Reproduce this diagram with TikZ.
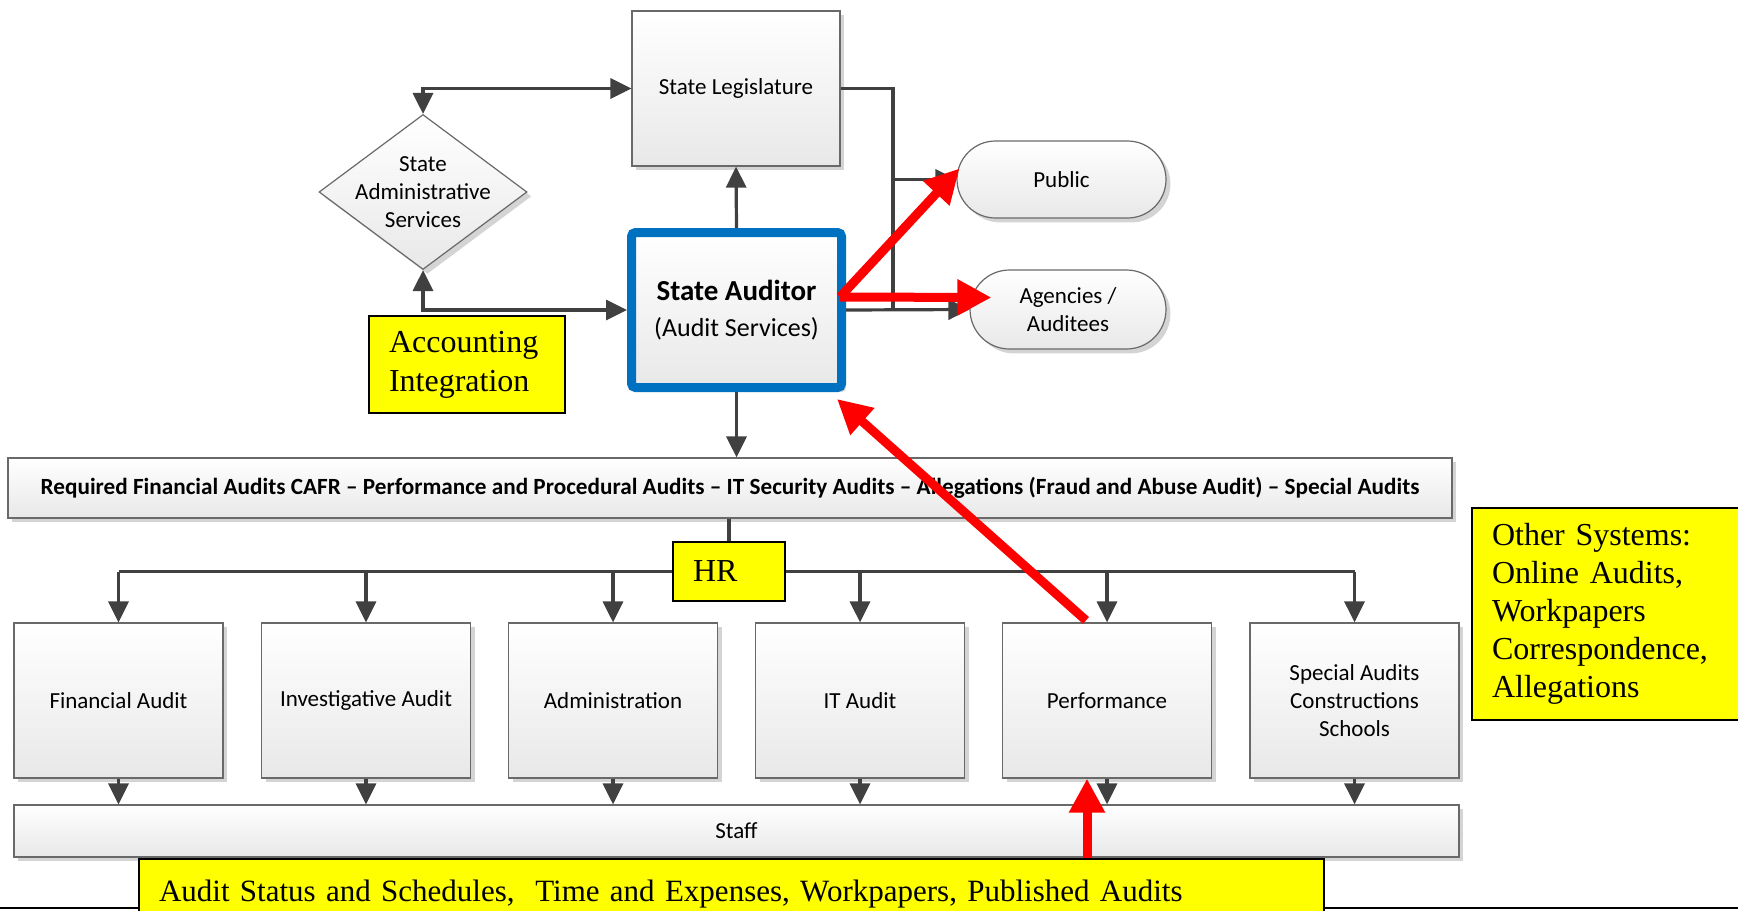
\documentclass[tikz,border=0pt]{standalone}
\usepackage{fontspec}
\setmainfont{Carlito}
\newfontfamily\tnr{Liberation Serif}
\usetikzlibrary{calc,arrows.meta,shapes.geometric,shapes.misc,shadows}

\definecolor{linegray}{RGB}{64,64,64}
\definecolor{edgegray}{RGB}{105,105,105}
\definecolor{auditblue}{RGB}{0,112,192}
\definecolor{notered}{RGB}{255,0,0}
\definecolor{noteyellow}{RGB}{255,255,0}

\begin{document}
\begin{tikzpicture}[x=0.5pt, y=-0.5pt,
  >={Triangle[length=10.5pt,width=10pt]},
  txt/.style={font=\fontsize{11.5}{13.9}\selectfont, align=center},
  unit/.style={txt, draw=edgegray, line width=0.6pt, top color=white,
    bottom color=black!9, inner sep=0pt,
    drop shadow={shadow xshift=2.2pt, shadow yshift=-2.2pt, fill=black!17, opacity=1}},
  panel/.style={unit, minimum width=104.5pt, minimum height=77.5pt},
  pill/.style={unit, rounded rectangle},
  note/.style={draw=black, line width=1pt, fill=noteyellow, align=left,
    font=\tnr\fontsize{16}{19.5}\selectfont, inner xsep=10pt, inner ysep=0pt},
  conn/.style={draw=linegray, line width=1.6pt},
  redarrow/.style={draw=notered, line width=4.5pt, -{Triangle[length=17pt,width=17pt]}}
]

  \path[use as bounding box] (0,0) rectangle (1738,910);
  \clip (0,0) rectangle (1738,910);

  \draw[line width=1.2pt] (0,908) -- (1738,908);

  % top part
  \node[panel, minimum width=104pt] (leg) at (736,88.5) {State Legislature};
  \node[unit, diamond, minimum width=104pt, minimum height=77.5pt] (sas) at (423,192) {};
  \node[txt] (sast) at (sas) {State\\Administrative\\Services};
  \node[panel, draw=auditblue, line width=4.5pt, rounded corners=2pt,
    minimum width=105pt, font=\fontsize{13}{17.7}\selectfont] (auditor) at (736.5,310)
    {{\bfseries\fontsize{14.5}{17.7}\selectfont State Auditor}\\(Audit Services)};
  \node[pill, minimum width=104.5pt, minimum height=38.5pt] (public) at (1061.5,179.5) {Public};
  \node[pill, minimum width=98pt, minimum height=39.5pt] (agencies) at (1068,309.5) {Agencies /\\Auditees};
  \node[note, minimum width=98pt, minimum height=48.5pt, text width=78pt] (acct) at (467,364.5)
    {Accounting\\Integration};

  \node[unit, minimum width=722pt, minimum height=30pt, font=\bfseries\fontsize{11.6}{13}\selectfont] (req) at (730,488)
    {Required Financial Audits CAFR – Performance and Procedural Audits – IT Security Audits – Allegations (Fraud and Abuse Audit) – Special Audits};

  % units
  \node[panel] (fin) at (118.5,700.5) {Financial Audit};
  \node[panel] (inv) at (366,700.5) {Investigative Audit};
  \node[panel] (adm) at (613,700.5) {Administration};
  \node[panel] (itaud) at (860,700.5) {IT Audit};
  \node[panel] (perf) at (1107,700.5) {Performance};
  \node[panel] (spec) at (1354.5,700.5) {Special Audits\\Constructions\\Schools};

  \node[unit, minimum width=722.5pt, minimum height=26pt] (staff) at (736.5,831) {Staff};

  \node[note, anchor=north west, minimum width=591.5pt, minimum height=35pt, text width=572.5pt,
    font=\tnr\fontsize{15.5}{19}\selectfont] (status) at (138,858)
    {Audit Status and Schedules,\ \ Time and Expenses, Workpapers, Published Audits};
  \node[note, anchor=north west, minimum width=150pt, minimum height=106pt, text width=130pt,
    font=\tnr\fontsize{16}{19}\selectfont] (other) at (1471,507)
    {Other Systems:\\Online Audits,\\Workpapers\\Correspondence,\\Allegations};

  % connectors
  \draw[conn,<->] (sas.north) |- (leg.west);
  \draw[conn,<->] (sas.south) |- (auditor.west);
  \draw[conn,->] (auditor.north) -- (leg.south);
  \coordinate (trunk) at (893,309.5);
  \draw[conn] (leg.east) -| (trunk);
  \draw[conn,->] (trunk |- public.west) -- (public.west);
  \draw[conn,->] (auditor.east) -- (agencies.west);
  \draw[conn,->] (auditor.south) -- (auditor.south |- req.north);

  \coordinate (hrc) at (729,571.5);
  \draw[conn] (hrc -| fin.north) -- (hrc -| spec.north);
  \foreach \d in {fin,inv,adm,itaud,perf,spec}
    \draw[conn,->] (hrc -| \d.north) -- (\d.north);
  \node[note, minimum width=56pt, minimum height=29.5pt, text width=36pt] (hr) at (hrc) {HR};
  \draw[conn] (req.south -| hr.north) -- (hr.north);
  \foreach \d in {fin,inv,adm,itaud,perf,spec}
    \draw[conn,->] (\d.south) -- (\d.south |- staff.north);

  % red arrows
  \coordinate (redstart) at ($(auditor.east)+(-6,-13)$);
  \draw[redarrow] (redstart) -- ($(public.west)+(3,-11)$);
  \draw[redarrow] (redstart) -- ($(agencies.west)+(22,-12)$);
  \draw[redarrow] ($(perf.north)+(-21,-2)$) -- ($(auditor.south east)+(-9,7)$);
  \coordinate (redfoot) at ($(perf.south)+(-20,0)$);
  \draw[redarrow] (status.north -| redfoot) -- (redfoot);

\end{tikzpicture}
\end{document}
